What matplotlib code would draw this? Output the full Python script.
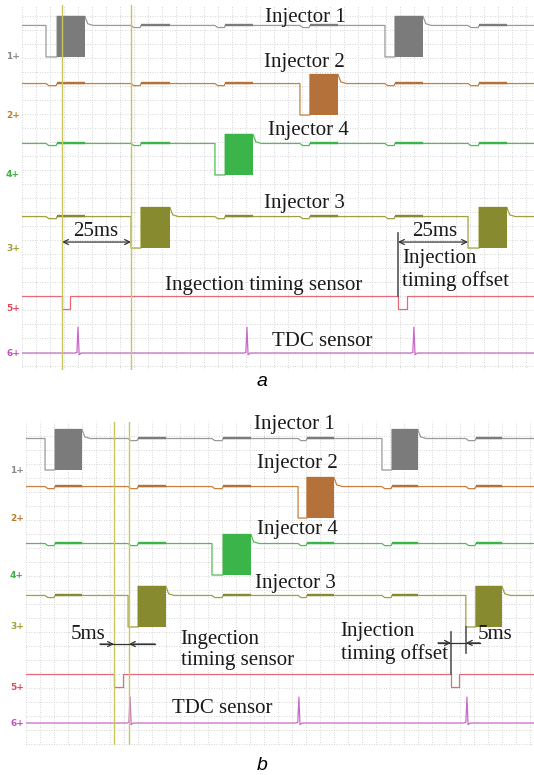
import numpy as np
import matplotlib.pyplot as plt
from matplotlib.transforms import blended_transform_factory

plt.rcParams['font.family'] = ['Liberation Serif', 'DejaVu Serif']

# scope picture scale: px per ms and px per division
PX_MS = 2.76
DIV = 14

# levels above channel ground, in divisions
inj_supply = 2.25
inj_peak = 2.9
sync_level = 0.9
tdc_peak = 1.85

tags = ['1', '2', '4', '3', '5', '6']
ch_line = ['#9a9a9a', '#c4813f', '#55bb55', '#a0a040', '#e46a78', '#c86ac8']
ch_fill = ['#7b7b7b', '#b5713a', '#3bb44a', '#878a2e']
ch_tag = ['#8a8a8a', '#c07a30', '#3cb040', '#a0a030', '#e04858', '#c050c0']

# panel a (injection timing 25 ms)
a_span = 185.5
a_height = 26.07
a_ground = [22.36, 18.21, 13.93, 8.71, 4.36, 1.21]   # ch 1, 2, 4, 3, 5, 6
a_inj1 = [(8.7, 12.7, 22.8), (131.5, 135.1, 145.3)]  # (drop, open, close) ms
a_inj2 = [(100.7, 104.3, 114.5)]
a_inj4 = [(69.9, 73.6, 83.7)]
a_inj3 = [(39.5, 43.1, 53.6), (161.6, 165.6, 175.7)]
a_sync = [(14.5, 17.4), (136.2, 139.5)]
a_tdc = [20.3, 81.5, 142.0]
a_cursors = [14.5, 39.5]

# panel b (injection timing 5 ms)
b_span = 184.1
b_height = 23.07
b_ground = [19.64, 16.21, 12.14, 8.43, 4.14, 1.57]
b_inj1 = [(6.9, 10.5, 20.3), (129.0, 132.6, 142.0)]
b_inj2 = [(98.6, 101.8, 111.6)]
b_inj4 = [(67.4, 71.4, 81.5)]
b_inj3 = [(37.0, 40.6, 50.7), (159.4, 163.0, 172.5)]
b_sync = [(31.9, 35.1), (154.0, 156.9)]
b_tdc = [37.7, 98.9, 159.8]
b_cursors = [31.9, 37.3]


def injector(ax, span, g, own, others, lc, fc):
    base = g + inj_supply
    top = g + inj_peak
    ev = [(p, True) for p in own] + [(p, False) for p in others]
    ev.sort(key=lambda e: e[0][0])
    tt, yy = [0], [base]
    for (drop, on, off), mine in ev:
        if mine:
            tt += [drop, drop, on, on, off, off + 1.0, off + 3.0]
            yy += [base, g, g, top, top, base + 0.12, base]
            ax.fill_between([on, off], g, top, color=fc, lw=0, zorder=3)
        else:
            tt += [drop, drop + 1.0, on - 0.3, on, off, off + 0.5]
            yy += [base, base - 0.15, base - 0.15, base, base, base]
            ax.plot([on, off], [base + 0.05, base + 0.05], color=fc, lw=1.7,
                    solid_capstyle='butt', zorder=3)
    tt.append(span)
    yy.append(base)
    ax.plot(tt, yy, color=lc, lw=0.9, zorder=2)


def panel(ax, span, height, ground, injs, sync, tdc, cursors, ytick0):
    ax.set_xlim(0, span)
    ax.set_ylim(0, height)
    ax.set_xticks(np.arange(0, span, DIV / PX_MS))
    ax.set_yticks(np.arange(ytick0, height, 1))
    ax.grid(True, ls=(0, (1, 2)), color='#c8c8c8', lw=0.6)
    ax.tick_params(length=0, labelbottom=False, labelleft=False)
    for sp in ax.spines.values():
        sp.set_visible(False)

    for i in range(4):
        others = [p for j in range(4) if j != i for p in injs[j]]
        injector(ax, span, ground[i], injs[i], others, ch_line[i], ch_fill[i])

    g5 = ground[4]
    tt, yy = [0], [g5 + sync_level]
    for s, e in sync:
        tt += [s, s, e, e]
        yy += [g5 + sync_level, g5, g5, g5 + sync_level]
    tt.append(span)
    yy.append(g5 + sync_level)
    ax.plot(tt, yy, color=ch_line[4], lw=0.9, zorder=2)

    g6 = ground[5]
    tt, yy = [0], [g6]
    for t in tdc:
        tt += [t - 1.0, t - 0.4, t, t + 0.4, t + 1.2]
        yy += [g6, g6 + 0.05, g6 + tdc_peak, g6 - 0.12, g6]
    tt.append(span)
    yy.append(g6)
    ax.plot(tt, yy, color=ch_line[5], lw=0.9, zorder=2)

    for c in cursors:
        ax.axvline(c, color='#cbc560', lw=1.0, zorder=4)

    tr = blended_transform_factory(ax.transAxes, ax.transData)
    for i in range(6):
        ax.text(-0.004, ground[i], tags[i] + '+', transform=tr, ha='right',
                va='center', fontsize=6.5, fontweight='bold', color=ch_tag[i],
                family='DejaVu Sans', clip_on=False)


fig = plt.figure(figsize=(5.34, 7.75), dpi=100)
ax_a = fig.add_axes([22 / 534, 1 - 370 / 775, 512 / 534, 365 / 775])
ax_b = fig.add_axes([26 / 534, 1 - 745 / 775, 508 / 534, 323 / 775])

panel(ax_a, a_span, a_height, a_ground, [a_inj1, a_inj2, a_inj4, a_inj3],
      a_sync, a_tdc, a_cursors, 0.25)
panel(ax_b, b_span, b_height, b_ground, [b_inj1, b_inj2, b_inj4, b_inj3],
      b_sync, b_tdc, b_cursors, 0.1)

fs = 15
ink = '#1a1a1a'
ls2 = 1.2
arr = dict(arrowstyle='<->', color='#333333', lw=0.9, shrinkA=0, shrinkB=0,
           mutation_scale=9)
one = dict(arrowstyle='->', color='#333333', lw=0.9, shrinkA=0, shrinkB=0,
           mutation_scale=9)

# panel a labels
ax_a.text(102.5, 25.2, 'Injector 1', fontsize=fs, ha='center', va='center', color=ink)
ax_a.text(102.2, 21.93, 'Injector 2', fontsize=fs, ha='center', va='center', color=ink)
ax_a.text(103.6, 17.14, 'Injector 4', fontsize=fs, ha='center', va='center', color=ink)
ax_a.text(102.2, 11.86, 'Injector 3', fontsize=fs, ha='center', va='center', color=ink)
ax_a.annotate('', xy=(a_cursors[0], 9.14), xytext=(a_cursors[1], 9.14), arrowprops=arr)
ax_a.text(26.8, 9.2, '25ms', fontsize=fs, ha='center', va='bottom', color=ink)
ax_a.annotate('', xy=(a_sync[1][0], 9.14), xytext=(a_inj3[1][0], 9.14), arrowprops=arr)
ax_a.text(149.6, 9.2, '25ms', fontsize=fs, ha='center', va='bottom', color=ink)
ax_a.plot([a_sync[1][0]] * 2, [9.79, a_ground[4] + sync_level], color='#555555', lw=1.2, zorder=5)
ax_a.text(137.6, 7.14, 'Injection\ntiming offset', fontsize=fs, ha='left',
          va='center', color=ink, linespacing=ls2)
ax_a.text(87.7, 6.07, 'Ingection timing sensor', fontsize=fs, ha='center', va='center', color=ink)
ax_a.text(108.7, 2.0, 'TDC sensor', fontsize=fs, ha='center', va='center', color=ink)

# panel b labels
ax_b.text(97.1, 22.86, 'Injector 1', fontsize=fs, ha='center', va='center', color=ink)
ax_b.text(98.2, 20.14, 'Injector 2', fontsize=fs, ha='center', va='center', color=ink)
ax_b.text(98.2, 15.36, 'Injector 4', fontsize=fs, ha='center', va='center', color=ink)
ax_b.text(97.5, 11.57, 'Injector 3', fontsize=fs, ha='center', va='center', color=ink)
ax_b.text(22.5, 7.86, '5ms', fontsize=fs, ha='center', va='center', color=ink)
ax_b.plot([26.8, 46.7], [7.21, 7.21], color='#333333', lw=0.9, zorder=5)
ax_b.annotate('', xy=(b_cursors[0], 7.21), xytext=(26.8, 7.21), arrowprops=one)
ax_b.annotate('', xy=(b_cursors[1], 7.21), xytext=(46.7, 7.21), arrowprops=one)
ax_b.text(56.0, 6.79, 'Ingection\ntiming sensor', fontsize=fs, ha='left',
          va='center', color=ink, linespacing=ls2)
ax_b.text(114.0, 7.29, 'Injection\ntiming offset', fontsize=fs, ha='left',
          va='center', color=ink, linespacing=ls2)
ax_b.plot([b_sync[1][0]] * 2, [8.07, b_ground[4] + sync_level], color='#555555', lw=1.2, zorder=5)
ax_b.plot([b_inj3[1][0]] * 2, [8.43, 6.57], color='#555555', lw=1.2, zorder=5)
ax_b.plot([149.3, 164.5], [7.29, 7.29], color='#333333', lw=0.9, zorder=5)
ax_b.annotate('', xy=(b_sync[1][0], 7.29), xytext=(149.3, 7.29), arrowprops=one)
ax_b.annotate('', xy=(b_inj3[1][0], 7.29), xytext=(164.5, 7.29), arrowprops=one)
ax_b.text(169.9, 7.86, '5ms', fontsize=fs, ha='center', va='center', color=ink)
ax_b.text(71.0, 2.64, 'TDC sensor', fontsize=fs, ha='center', va='center', color=ink)

fig.text(262 / 534, 1 - 382 / 775, 'a', fontsize=14, style='italic',
         family='Liberation Sans', ha='center', va='center')
fig.text(262 / 534, 1 - 765 / 775, 'b', fontsize=14, style='italic',
         family='Liberation Sans', ha='center', va='center')

fig.savefig('out.png', dpi=100)
